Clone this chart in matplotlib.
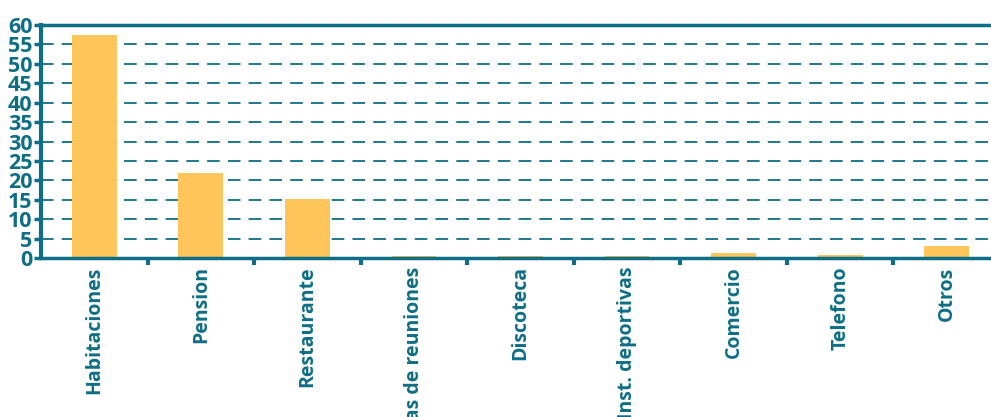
import numpy as np
import matplotlib.pyplot as plt

# ---------------- DATA ---------------- #
categorias = ["Habitaciones", "Pension", "Restaurante", "Salas de reuniones",
              "Discoteca", "Inst. deportivas", "Comercio", "Telefono", "Otros"]
valores = [57.4, 21.8, 15.2, 0.6, 0.6, 0.6, 1.3, 0.7, 3.2]
y_ticks = list(range(0, 61, 5))

# ---------------- STYLE ---------------- #
TEAL = "#0E6E85"
BAR = "#FDC55A"
plt.rcParams['font.family'] = ['Open Sans', 'DejaVu Sans']

fig = plt.figure(figsize=(9.91, 4.17), dpi=100)
# plot area runs slightly past the right edge of the image, as in the source
ax = fig.add_axes([41 / 991, (417 - 258) / 417, 959 / 991, 233 / 417])

x = np.arange(len(categorias))
ax.bar(x, valores, width=0.42, color=BAR, zorder=3)

ax.set_ylim(0, 60)
ax.set_xlim(-0.5, len(categorias) - 0.5)
ax.set_yticks(y_ticks)
ax.set_yticklabels([str(v) for v in y_ticks], fontsize=15.5, fontweight='bold', color=TEAL)

# category labels at centres, tick marks at boundaries
ax.set_xticks(x + 0.5)
ax.set_xticklabels([])
ax.set_xticks(x, minor=True)
ax.set_xticklabels(categorias, minor=True, rotation=90, fontsize=14,
                   fontweight='bold', color=TEAL, va='top', ha='center')
ax.tick_params(axis='x', which='minor', length=0, pad=6)
ax.tick_params(axis='x', which='major', length=5, width=3, color=TEAL, direction='out')
ax.tick_params(axis='y', length=5, width=2.5, color=TEAL, direction='out', pad=1)

for yv in y_ticks[1:-1]:
    ax.axhline(yv, color=TEAL, lw=1.3, ls=(0, (7, 4.5)), zorder=1)

ax.spines['right'].set_visible(False)
ax.spines['left'].set_color(TEAL)
ax.spines['left'].set_linewidth(3)
ax.spines['bottom'].set_color(TEAL)
ax.spines['bottom'].set_linewidth(2.5)
ax.spines['bottom'].set_zorder(4)
ax.spines['top'].set_color(TEAL)
ax.spines['top'].set_linewidth(2.5)

fig.savefig('out.png', dpi=100)
plt.close(fig)
